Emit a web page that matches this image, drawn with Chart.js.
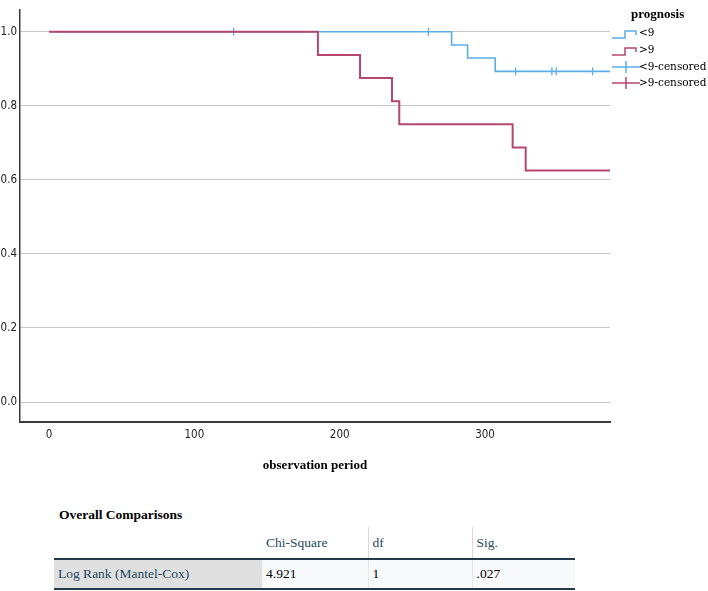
<!DOCTYPE html>
<html>
<head>
<meta charset="utf-8">
<script src="https://cdn.jsdelivr.net/npm/chart.js@4"></script>
<style>
  html, body { margin: 0; padding: 0; background: #fff; }
  #wrap { position: relative; width: 708px; height: 591px; overflow: hidden; }
  #chart-box { position: absolute; left: 0; top: 0; width: 708px; height: 480px; }
  #tbl-title { position: absolute; left: 59px; top: 507px; font: bold 13.5px "Liberation Serif", serif; color: #000; }
  table.cmp { position: absolute; left: 54px; top: 527px; border-collapse: collapse; font: 13.5px "Liberation Serif", serif; table-layout: fixed; }
  table.cmp td { padding: 0 0 0 4px; white-space: nowrap; }
  table.cmp tr.head td { height: 31px; color: #264a60; vertical-align: middle; }
  table.cmp tr.head td.sep { border-left: 1px solid #d8d8d8; }
  table.cmp tr.row td { height: 28px; color: #010205; background: #f8f9fa; border-top: 2px solid #223c4e; border-bottom: 2px solid #223c4e; }
  table.cmp tr.row td.lab { background: #dfdfdf; color: #264a60; }
  table.cmp tr.row td.sep { border-left: 1px solid #e8e8e8; }
</style>
</head>
<body>
<div id="wrap">
  <div id="chart-box"><canvas id="chart-km"></canvas></div>
  <div id="tbl-title">Overall Comparisons</div>
  <table class="cmp">
    <colgroup><col style="width:208px"><col style="width:106px"><col style="width:104px"><col style="width:103px"></colgroup>
    <tr class="head"><td></td><td>Chi-Square</td><td class="sep">df</td><td class="sep">Sig.</td></tr>
    <tr class="row"><td class="lab">Log Rank (Mantel-Cox)</td><td>4.921</td><td class="sep">1</td><td class="sep">.027</td></tr>
  </table>
</div>
<script>
// survival steps (time, cumulative survival)
const lowTimes = [0, 277, 288, 307, 386];          // prognosis <9
const lowSurv = [1, 0.964, 0.929, 0.893, 0.893];
const highTimes = [0, 185, 214, 236, 241, 319, 328, 386];   // prognosis >9
const highSurv = [1, 0.9375, 0.875, 0.8125, 0.75, 0.6875, 0.625, 0.625];

// censored cases
const lowCensorTimes = [127, 261, 321, 346, 349, 374];
const lowCensorSurv = [1, 1, 0.893, 0.893, 0.893, 0.893];
const highCensorTimes = [];
const highCensorSurv = [];

const xTicks = [0, 100, 200, 300];
const yTicks = [0, 0.2, 0.4, 0.6, 0.8, 1.0];

const legendTitle = 'prognosis';
const legendLabels = ['<9', '>9', '<9-censored', '>9-censored'];

const blue = '#5aaee6';
const red = '#b4476f';

function toPoints(xs, ys) {
  return xs.map((x, i) => ({x: x, y: ys[i]}));
}

// legend drawn by hand, SPSS style
const kmLegend = {
  id: 'kmLegend',
  afterDraw(chart) {
    const ctx = chart.ctx;
    ctx.save();
    ctx.fillStyle = '#000';
    ctx.font = 'bold 13px "Liberation Serif", serif';
    ctx.textBaseline = 'middle';
    ctx.textAlign = 'left';
    ctx.fillText(legendTitle, 631, 15);

    const rows = [33, 50, 67, 83];
    const colors = [blue, red, blue, red];
    for (let i = 0; i < 4; i++) {
      const y = rows[i];
      ctx.strokeStyle = colors[i];
      ctx.lineWidth = 1.5;
      ctx.beginPath();
      if (i < 2) {
        // step symbol
        ctx.moveTo(612, y + 5);
        ctx.lineTo(625, y + 5);
        ctx.lineTo(625, y - 2);
        ctx.lineTo(636, y - 2);
        ctx.lineTo(636, y + 2);
      } else {
        // censor symbol
        ctx.moveTo(612, y);
        ctx.lineTo(640, y);
        ctx.moveTo(626, y - 6);
        ctx.lineTo(626, y + 6);
      }
      ctx.stroke();
      ctx.fillStyle = '#000';
      ctx.font = '10.5px "DejaVu Serif", serif';
      ctx.fillText(legendLabels[i], 639, y);
    }
    ctx.restore();
  }
};

const tickFont = {family: '"Liberation Sans Narrow", "DejaVu Sans Condensed", sans-serif', size: 11.5};

new Chart(document.getElementById('chart-km'), {
  type: 'line',
  data: {
    datasets: [
      {
        label: legendLabels[1],
        data: toPoints(highTimes, highSurv),
        borderColor: red,
        borderWidth: 2,
        stepped: 'before',
        pointRadius: 0,
        fill: false,
      },
      {
        label: legendLabels[0],
        data: toPoints(lowTimes, lowSurv),
        borderColor: blue,
        borderWidth: 1.6,
        stepped: 'before',
        pointRadius: 0,
        fill: false,
      },
      {
        label: legendLabels[2],
        data: toPoints(lowCensorTimes, lowCensorSurv),
        showLine: false,
        borderColor: blue,
        pointStyle: 'line',
        pointRotation: 90,
        pointRadius: 4,
        pointBorderWidth: 1.3,
      },
      {
        label: legendLabels[3],
        data: toPoints(highCensorTimes, highCensorSurv),
        showLine: false,
        borderColor: red,
        pointStyle: 'line',
        pointRotation: 90,
        pointRadius: 4,
        pointBorderWidth: 1.3,
      },
    ]
  },
  options: {
    responsive: true,
    maintainAspectRatio: false,
    animation: false,
    layout: {padding: {left: 0, right: 98, top: 0, bottom: 0}},
    plugins: {
      legend: {display: false},
      tooltip: {enabled: false},
    },
    scales: {
      x: {
        type: 'linear',
        min: -20,
        max: 386,
        afterBuildTicks: axis => { axis.ticks = xTicks.map(v => ({value: v})); },
        afterFit: axis => { axis.height = 58; },
        grid: {display: false, drawTicks: false},
        border: {display: true, color: '#3a3a3a', width: 2},
        ticks: {color: '#222', font: tickFont, padding: 6, maxRotation: 0},
        title: {
          display: true,
          text: 'observation period',
          color: '#000',
          font: {family: '"Liberation Serif", serif', size: 13, weight: 'bold'},
          padding: {top: 0, bottom: 7},
        },
      },
      y: {
        min: -0.054,
        max: 1.059,
        afterBuildTicks: axis => { axis.ticks = yTicks.map(v => ({value: v})); },
        afterFit: axis => { axis.width = 20; },
        grid: {color: '#c6c6c6', lineWidth: 1, drawTicks: false},
        border: {display: true, color: '#3a3a3a', width: 1.5},
        ticks: {
          color: '#222',
          font: tickFont,
          padding: 3,
          callback: v => v.toFixed(1),
        },
      }
    }
  },
  plugins: [kmLegend]
});
</script>
</body>
</html>
